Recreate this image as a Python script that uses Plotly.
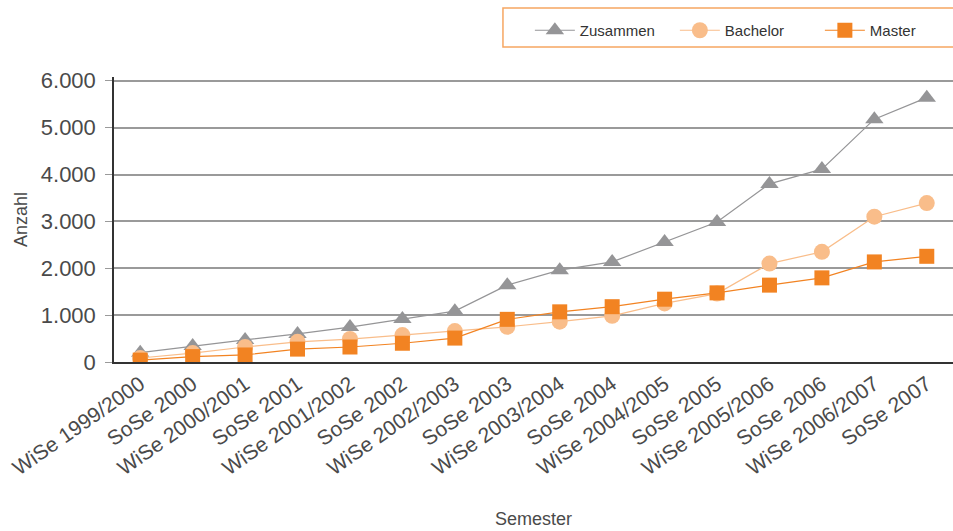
import plotly.graph_objects as go

semester = ["WiSe 1999/2000", "SoSe 2000", "WiSe 2000/2001", "SoSe 2001", "WiSe 2001/2002",
            "SoSe 2002", "WiSe 2002/2003", "SoSe 2003", "WiSe 2003/2004", "SoSe 2004",
            "WiSe 2004/2005", "SoSe 2005", "WiSe 2005/2006", "SoSe 2006", "WiSe 2006/2007",
            "SoSe 2007"]
zusammen = [200, 340, 470, 600, 745, 915, 1085, 1640, 1960, 2135, 2560, 2985, 3800, 4115, 5180, 5640]
bachelor = [85, 190, 320, 430, 490, 575, 660, 750, 860, 985, 1250, 1460, 2100, 2350, 3100, 3390]
master = [40, 115, 150, 275, 320, 400, 510, 910, 1070, 1180, 1340, 1475, 1640, 1795, 2135, 2255]
y_ticks = [0, 1000, 2000, 3000, 4000, 5000, 6000]

FONT = "Liberation Sans"
TXT = "#4a4a4a"

fig = go.Figure()
fig.add_trace(go.Scatter(x=semester, y=zusammen, name="Zusammen", mode="lines+markers",
                         line=dict(color="#959597", width=1.2),
                         marker=dict(symbol="triangle-up", size=16, color="#959597")))
fig.add_trace(go.Scatter(x=semester, y=bachelor, name="Bachelor", mode="lines+markers",
                         line=dict(color="#f9bd8a", width=1.2),
                         marker=dict(symbol="circle", size=16, color="#f9bd8a")))
fig.add_trace(go.Scatter(x=semester, y=master, name="Master", mode="lines+markers",
                         line=dict(color="#f28322", width=1.2),
                         marker=dict(symbol="square", size=15, color="#f28322")))

fig.add_shape(type="rect", xref="paper", yref="paper", x0=0.4636, x1=1.01, y0=1.105, y1=1.242,
              line=dict(color="#f6a662", width=1.5), fillcolor="rgba(0,0,0,0)", layer="above")

fig.update_layout(
    width=953, height=531,
    margin=dict(l=114, r=0, t=77, b=169, autoexpand=False),
    paper_bgcolor="white", plot_bgcolor="white",
    separators=",.",
    font=dict(family=FONT, color=TXT),
    showlegend=True,
    legend=dict(orientation="h", xref="container", yref="container",
                x=0.556, y=0.9426, xanchor="left", yanchor="middle",
                borderwidth=0, bgcolor="rgba(0,0,0,0)",
                font=dict(size=15, color="#333"), entrywidth=90, itemwidth=40),
    xaxis=dict(type="category", range=[-0.5, len(semester) - 0.5], showgrid=False,
               showline=True, linecolor="#333",
               linewidth=1.5, ticks="", tickangle=-35, automargin=False,
               tickfont=dict(size=21, color=TXT),
               title=dict(text="Semester", font=dict(size=18, color=TXT), standoff=34)),
    yaxis=dict(range=[0, 6080], tickvals=y_ticks, tickformat=",d", showgrid=True,
               gridcolor="#9a9a9a", gridwidth=1.5, showline=True, linecolor="#333",
               linewidth=1.5, ticks="outside", ticklen=7, tickcolor="#9a9a9a",
               ticklabelstandoff=5, automargin=False,
               tickfont=dict(size=22, color=TXT), zeroline=False,
               title=dict(text="Anzahl", font=dict(size=18, color=TXT), standoff=8)),
)

fig.write_html("out.html", config={"displayModeBar": False},
               post_script="document.body.style.margin='0';document.body.style.overflow='hidden';")
